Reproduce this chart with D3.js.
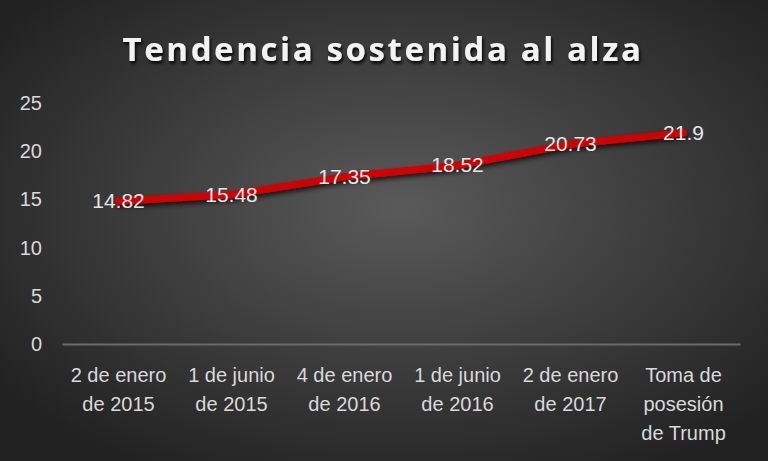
<!DOCTYPE html>
<html><head><meta charset="utf-8">
<script src="https://cdn.jsdelivr.net/npm/d3@7"></script>
<style>html,body{margin:0;padding:0;background:#333;}svg{display:block;}</style>
</head><body>
<script>
const title = "Tendencia sostenida al alza";
const categories = [
  ["2 de enero", "de 2015"],
  ["1 de junio", "de 2015"],
  ["4 de enero", "de 2016"],
  ["1 de junio", "de 2016"],
  ["2 de enero", "de 2017"],
  ["Toma de", "posesión", "de Trump"]
];
const values = [14.82, 15.48, 17.35, 18.52, 20.73, 21.9];
const valueLabels = ["14.82", "15.48", "17.35", "18.52", "20.73", "21.9"];
const yTicks = [0, 5, 10, 15, 20, 25];

const W = 768, H = 461;
const margin = {left: 62, right: 28, top: 103, bottom: 117};
const font = "'Liberation Sans Narrow', 'Liberation Sans', sans-serif";

const svg = d3.select("body").append("svg").attr("width", W).attr("height", H);
const defs = svg.append("defs");
const rg = defs.append("radialGradient").attr("id", "bg")
  .attr("cx", "52%").attr("cy", "45%").attr("r", "65%");
rg.append("stop").attr("offset", "0%").attr("stop-color", "#5a5a5a");
rg.append("stop").attr("offset", "100%").attr("stop-color", "#222222");
const sh = defs.append("filter").attr("id", "sh").attr("x", "-10%").attr("y", "-50%").attr("width", "120%").attr("height", "200%");
sh.append("feDropShadow").attr("dx", 1).attr("dy", 3).attr("stdDeviation", 2.5).attr("flood-color", "#000").attr("flood-opacity", 0.75);
const tsh = defs.append("filter").attr("id", "tsh").attr("x", "-10%").attr("y", "-50%").attr("width", "120%").attr("height", "200%");
tsh.append("feDropShadow").attr("dx", 1.5).attr("dy", 2.5).attr("stdDeviation", 1.5).attr("flood-color", "#000").attr("flood-opacity", 0.9);

svg.append("rect").attr("width", W).attr("height", H).attr("fill", "url(#bg)");

const x = d3.scaleBand().domain(d3.range(categories.length))
  .range([margin.left, W - margin.right]).padding(0);
const y = d3.scaleLinear().domain([0, 25]).range([H - margin.bottom, margin.top]);

// title
svg.append("text").attr("x", 383).attr("y", 61)
  .attr("text-anchor", "middle")
  .attr("font-family", "'Open Sans', sans-serif").attr("font-weight", "bold")
  .attr("font-size", 33).attr("letter-spacing", 2.6)
  .attr("fill", "#f2f2f2").attr("filter", "url(#tsh)")
  .text(title);

// y axis
const yAxis = svg.append("g").attr("transform", `translate(${margin.left},0)`)
  .call(d3.axisLeft(y).tickValues(yTicks).tickSize(0).tickPadding(20));
yAxis.select(".domain").remove();
yAxis.selectAll("text").attr("font-family", font).attr("font-size", 20).attr("fill", "#d9d9d9");

// x axis
const xAxis = svg.append("g").attr("transform", `translate(0,${y(0)})`)
  .call(d3.axisBottom(x).tickSize(0).tickFormat(""));
xAxis.select(".domain").attr("stroke", "#6b6b6b").attr("stroke-width", 2);
xAxis.selectAll(".tick").each(function(d) {
  const t = d3.select(this).append("text").attr("fill", "#d9d9d9")
    .attr("font-family", font).attr("font-size", 20).attr("text-anchor", "middle");
  categories[d].forEach((line, i) => {
    t.append("tspan").attr("x", 0).attr("y", 38 + i * 29).text(line);
  });
});

// line
const line = d3.line().x((d, i) => x(i) + x.bandwidth() / 2).y(d => y(d));
svg.append("path").datum(values).attr("d", line)
  .attr("fill", "none").attr("stroke", "#d40000").attr("stroke-width", 7)
  .attr("stroke-linecap", "round").attr("stroke-linejoin", "round")
  .attr("filter", "url(#sh)");

// labels
svg.append("g").selectAll("text").data(values).join("text")
  .attr("x", (d, i) => x(i) + x.bandwidth() / 2)
  .attr("y", d => y(d) + 7)
  .attr("text-anchor", "middle")
  .attr("font-family", font).attr("font-size", 21).attr("fill", "#e6e6e6")
  .text((d, i) => valueLabels[i]);
</script>
</body></html>
